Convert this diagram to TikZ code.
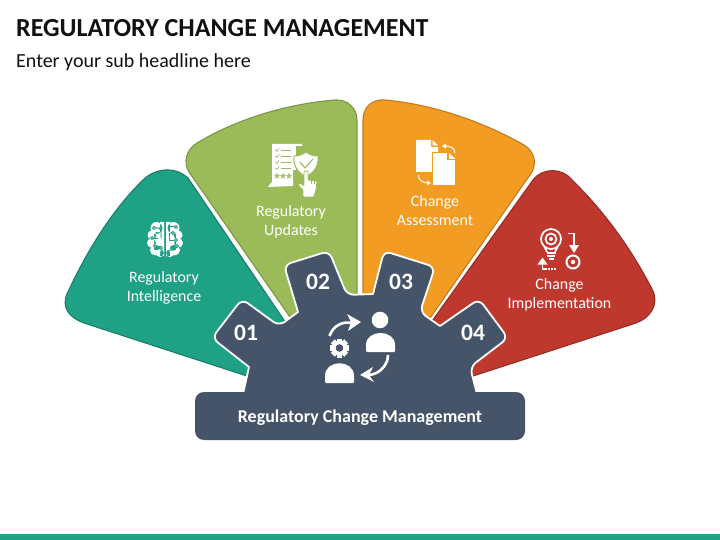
\documentclass[tikz,border=0pt]{standalone}
\usepackage{fontspec}
\setmainfont{Carlito}
\definecolor{navy}{HTML}{455468}
\definecolor{pteal}{HTML}{1EA185}
\definecolor{pgreen}{HTML}{9BBB59}
\definecolor{porange}{HTML}{F39C24}
\definecolor{pred}{HTML}{BE382E}
\definecolor{titlec}{HTML}{111111}
\tikzset{
  x=1pt,y=-1pt,
  petal/.style={line width=1.1pt,line join=round},
  lab/.style={text=white,font=\fontsize{15.9}{19}\selectfont,align=center,inner sep=0pt},
  num/.style={text=white,font=\fontsize{23.5}{26}\selectfont\bfseries,inner sep=0pt},
  wline/.style={draw=white,line width=2.6pt,line cap=round},
}
\newcommand{\gearicon}[4]{% x y radius bg
  \begin{scope}[shift={(#1,#2)}]
    \foreach \a in {0,45,...,315}{\fill[white,rotate=\a] (-#3*0.28,0) rectangle (#3*0.28,#3*1.0);}
    \fill[white] (0,0) circle[radius=#3*0.78];
    \fill[#4] (0,0) circle[radius=#3*0.4];
  \end{scope}}
\begin{document}
\begin{tikzpicture}
\useasboundingbox (0,0) rectangle (720,540);
\fill[white] (0,0) rectangle (720,540);
\fill[pteal] (0,534) rectangle (720,540);
\node[anchor=west,inner sep=0pt,text=titlec,font=\fontsize{26}{28}\selectfont\bfseries] (title) at (16,28.5) {REGULATORY CHANGE MANAGEMENT};
\node[anchor=west,inner sep=0pt,text=titlec,font=\fontsize{20}{22}\selectfont] (sub) at (16,62) {Enter your sub headline here};
% petals
\path[petal,fill=pteal,draw=pteal!80!black] (250,377) -- (84,323) .. controls (70,318) and (61,308) .. (67,294)
  .. controls (85,255) and (110,212) .. (143,180) .. controls (155,168) and (175,166) .. (188,178) -- (290,329) -- cycle;
\path[petal,fill=pgreen,draw=pgreen!80!black] (292,320) -- (189,172) .. controls (183,162) and (186,150) .. (197,143)
  .. controls (235,120) and (285,104) .. (335,100) .. controls (347,99) and (357,108) .. (357,120) -- (357,300) -- cycle;
\path[petal,fill=porange,draw=porange!80!black] (363,300) -- (363,120) .. controls (363,107) and (372,99) .. (385,100)
  .. controls (430,104) and (480,120) .. (524,145) .. controls (534,151) and (537,162) .. (532,172) -- (428,321) -- cycle;
\path[petal,fill=pred,draw=pred!80!black] (430,324) -- (533,180) .. controls (543,167) and (563,168) .. (572,180)
  .. controls (605,212) and (632,250) .. (653,291) .. controls (659,305) and (650,318) .. (636,323) -- (470,377) -- cycle;
% gear
\path[fill=navy,draw=white,line width=1.8pt,line join=round] (243,394) -- (249,367) [rounded corners=7pt] -- (212,338) -- (242,299) -- (279,326) [sharp corners]
  -- (298,312) [rounded corners=7pt] -- (284,265) -- (329,251) -- (347,295) [sharp corners] -- (373,294)
  [rounded corners=7pt] -- (384,251) -- (435,267) -- (420,312) [sharp corners] -- (440,326)
  [rounded corners=7pt] -- (479,299) -- (508,338) -- (470,367) [sharp corners] -- (477,394) -- cycle;
\node[fill=navy,rounded corners=9pt,minimum width=330pt,minimum height=48pt,inner sep=0pt] (banner) at (360,416) {};
\node[inner sep=0pt,text=white,font=\fontsize{18}{20}\selectfont\bfseries] (bannertext) at (360,418) {Regulatory Change Management};
% numbers
\node[num] (n1) at (246,332.5) {01};
\node[num] (n2) at (318,281.5) {02};
\node[num] (n3) at (401,281.5) {03};
\node[num] (n4) at (473,332.5) {04};
% labels
\node[lab] (l1) at (164,288) {Regulatory\\Intelligence};
\node[lab] (l2) at (291,222) {Regulatory\\Updates};
\node[lab] (l3) at (435,210.3) {Change\\Assessment};
\node[lab] (l4) at (559.5,295) {Change\\Implementation};
% centre icon
\fill[white] (380,320) circle[radius=8.3];
\fill[white,rounded corners=1pt] (366,352) -- (366,346) .. controls (366,329) and (395,329) .. (395,346) -- (395,352) -- cycle;
\fill[white,rounded corners=1pt] (325,383) -- (325,377) .. controls (325,359) and (354,359) .. (354,377) -- (354,383) -- cycle;
\gearicon{339.5}{348}{9.5}{navy}
\draw[wline,line cap=butt] (329.5,336) .. controls (333,326) and (342,321) .. (352,323);
\fill[white] (361,322) -- (347,314) -- (351,322) -- (348,331) -- cycle;
\draw[wline,line cap=butt] (388,355) .. controls (388,366) and (378,375) .. (368,375);
\fill[white] (360,375) -- (373,367) -- (369,375) -- (374,382) -- cycle;
% brain icon
\begin{scope}
\fill[white] (156.5,228) circle[radius=6] (152,235) circle[radius=4.5] (151.5,243) circle[radius=4.5] (155.5,250) circle[radius=5.5] (160,253) circle[radius=4]
  (173.5,228) circle[radius=6] (178,235) circle[radius=4.5] (178.5,243) circle[radius=4.5] (174.5,250) circle[radius=5.5] (170,253) circle[radius=4]
  (154,232) rectangle (164,250) (166,232) rectangle (176,250) (160,222) rectangle (164,256) (166,222) rectangle (170,256);
\draw[pteal,line width=1pt] (154,228) -- (159,228) -- (161,231) -- (161,238);
\draw[pteal,line width=1pt] (152,238) -- (158,238);
\draw[pteal,line width=1pt] (161,256) -- (161,246) -- (155,246);
\draw[pteal,line width=1pt] (169,227) -- (176,227);
\draw[pteal,line width=1pt] (169,233) -- (169,240) -- (176,240);
\draw[pteal,line width=1pt] (169,250) -- (174,250) -- (177,247);
\foreach \p in {(154,228),(152,238),(155,246),(161,248),(176,227),(176,240),(177,246),(173,233)}{\filldraw[fill=white,draw=pteal,line width=.8pt] \p circle[radius=1.5];}
\end{scope}
% regulatory updates icon
\begin{scope}
\fill[white] (272,144) -- (302,144) -- (302,146) -- (293,146) -- (293,186) -- (268,187) .. controls (269,184) and (271,184) .. (272,182) -- cycle;
\fill[white] (293,146) rectangle (296,170);
\foreach \y in {150,156,162,168}{\draw[pgreen,line width=.7pt] (275,\y) -- (277,\y+1.3) -- (279,\y-1.5); \draw[pgreen,line width=.8pt] (281,\y) -- (291,\y);}
\foreach \x in {277,283,289}{\draw[pgreen,line width=.6pt,line join=round] (\x,176) +(-90:2.6) -- +(54:2.6) -- +(198:2.6) -- +(342:2.6) -- +(126:2.6) -- cycle;}
\filldraw[fill=white,draw=pgreen,line width=1pt] (306,152) .. controls (310,155) and (314,156) .. (318,156) .. controls (319,165) and (315,172) .. (306,177) .. controls (297,172) and (293,165) .. (294,156) .. controls (298,156) and (302,155) .. (306,152) -- cycle;
\draw[pgreen,line width=1.1pt,line join=round] (300,162) -- (305,168) -- (313,159);
\filldraw[fill=white,draw=pgreen,line width=.8pt,rounded corners=1pt] (303,197) -- (303,190) -- (298,185) -- (300,183) -- (304,186) -- (304,171) -- (308,171) -- (308,180) -- (317,181) -- (316,190) -- (314,197) -- cycle;
\draw[pgreen,line width=.6pt] (311,180) -- (311,184) (314,180) -- (314,184);
\end{scope}
% documents icon
\begin{scope}
\fill[white] (416,140) -- (431,140) -- (431,147) -- (438,147) -- (438,172) -- (416,172) -- cycle;
\fill[white] (432.5,140) -- (438,145.5) -- (432.5,145.5) -- cycle;
\filldraw[fill=white,draw=porange,line width=1pt] (432.5,153) -- (447,153) -- (447,160) -- (455.5,160) -- (455.5,186) -- (432.5,186) -- cycle;
\fill[white] (449,153) -- (455.5,159) -- (449,159) -- cycle;
\draw[white,line width=1pt] (455,153) .. controls (455,148) and (450,146) .. (445,146);
\fill[white] (442,146) -- (446,143.5) -- (446,148.5) -- cycle;
\draw[white,line width=1pt] (418.5,175) .. controls (418,180) and (423,183) .. (428,183);
\fill[white] (431,183) -- (427,180.5) -- (427,185.5) -- cycle;
\end{scope}
% bulb icon
\begin{scope}
\draw[white,line width=1.7pt] (551,239) circle[radius=10];
\draw[white,line width=1.7pt] (551,239) circle[radius=5.5];
\fill[white] (551,239) circle[radius=2];
\draw[white,line width=1.6pt] (544.5,247) -- (547,252) (557.5,247) -- (555,252);
\draw[white,line width=1.4pt] (546.5,253) -- (555.5,253) (547,256) -- (555,256) (548.5,259) -- (553.5,259);
\draw[white,line width=1.4pt] (568,233.5) -- (574,233.5) -- (574,247);
\fill[white] (574,253) -- (569,245) -- (579,245) -- cycle;
\draw[white,line width=2pt] (573,262) circle[radius=6.5];
\fill[white] (573,262) circle[radius=2.2];
\draw[white,line width=1.4pt] (542.5,262) -- (542.5,269) -- (547,269);
\fill[white] (542.5,257.5) -- (537.5,264.5) -- (547.5,264.5) -- cycle;
\draw[white,line width=1.4pt,dash pattern=on 1.5pt off 1.5pt] (548,269) -- (556,269);
\end{scope}
\end{tikzpicture}
\end{document}
